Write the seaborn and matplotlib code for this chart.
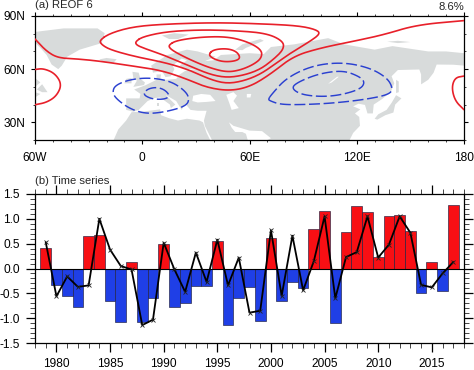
"""
Two panel figure: REOF 6 map pattern and its time series.
"""
import numpy as np
import pandas as pd
import matplotlib
matplotlib.use("Agg")
import matplotlib.pyplot as plt
from matplotlib.ticker import MultipleLocator
import seaborn as sns

# time series
years = list(range(1979, 2018))
bar_values = [0.42, -0.34, -0.55, -0.77, 0.65, 0.68, -0.66, -1.08, 0.13, -1.07,
              -0.60, 0.50, -0.78, -0.70, -0.35, -0.35, 0.56, -1.13, -0.59, -0.37,
              -1.06, 0.62, -0.66, -0.27, -0.39, 0.79, 1.15, -1.09, 0.73, 1.25,
              1.14, 0.23, 1.05, 1.07, 0.75, -0.50, 0.13, -0.46, 1.27]
line_values = [0.53, -0.56, -0.16, -0.37, -0.34, 1.00, 0.38, 0.05, -0.02, -1.14,
               -1.03, 0.52, -0.02, -0.47, 0.32, -0.27, 0.58, -0.34, 0.22, -0.89,
               -0.85, 0.77, -0.55, 0.66, -0.44, 0.15, 1.05, -0.60, 0.23, 0.33,
               1.05, 0.22, 0.48, 1.05, 0.72, -0.33, -0.38, -0.10, 0.13]

# contours, (lon, lat)
red_open = [(-60, 77), (-53.5, 70), (-47, 66.3), (-36.7, 65.8), (-23.6, 64.5), (-5, 61.7),
            (10, 59.4), (23, 55.2), (36, 49.6), (49, 47.7), (60.3, 50.1), (71.5, 57),
            (84.5, 67.3), (99.5, 71.9), (118, 75.7), (135, 79.4), (153.5, 85), (180, 87.4)]
red_left = [(-60, 59.8), (-55.3, 60.4), (-48.8, 57.6), (-45, 51.4), (-47.9, 44.9),
            (-53.5, 41.2), (-60, 39.9)]
red_right = [(180, 56.1), (175, 55.2), (173.1, 49.6), (175, 42.1), (180, 37.1)]
red_closed_1 = [(-24, 76.2), (-18, 80.3), (-5, 84), (13.7, 85.5), (41.6, 86.3), (69.6, 85.5),
                (88.3, 84.4), (97.6, 82.2), (99.5, 79.9), (93.9, 75.7), (84.5, 70.1),
                (75.2, 63.5), (65.9, 57), (56.6, 53.3), (47.2, 51.8), (37.9, 54.2),
                (26.7, 59.4), (13.7, 63.5), (-5, 67.3), (-18, 71), (-22.7, 73.8)]
red_closed_2 = [(-3.7, 75.7), (0.6, 78.4), (13.7, 81.2), (32.3, 82.2), (51, 81.8), (69.6, 80.3),
                (79, 75.7), (79, 71), (73.3, 65.4), (65.9, 59.8), (56.6, 56.5), (47.2, 55.2),
                (37.9, 57), (26.7, 61.7), (13.7, 67.3), (0.6, 71.9), (-3.5, 73.8)]
red_closed_3 = [(15, 73.8), (19.3, 76.2), (32.3, 78.1), (47.2, 78.4), (58.4, 75.7), (66.8, 71),
                (66.8, 66.3), (62.2, 62.6), (54.7, 59.4), (47.2, 58.3), (37.9, 60.7),
                (28.6, 64.5), (19.3, 69.1), (15.2, 71.9)]
red_closed_4 = [(37, 68.2), (39.8, 71), (47.2, 71.7), (52.8, 70), (55, 66.3), (51.9, 64.5),
                (45.4, 64.1), (39.8, 65.8)]
blue_eu_outer = [(-16.7, 46.8), (-15.2, 50.9), (-6.8, 54.2), (4.3, 55.2), (15.5, 53.3), (23, 48.6),
                 (26.4, 44), (24.9, 39.3), (13.7, 36), (2.5, 34.7), (-6.8, 37.5), (-14.3, 43)]
blue_eu_inner = [(1, 46.8), (3.5, 49), (8.2, 49.8), (12.7, 48.3), (15.5, 44.9), (12.7, 43),
                 (6.2, 43), (1.5, 44.9)]
blue_as_outer = [(70.5, 43), (72.4, 45.8), (80.8, 55.2), (95.7, 62.2), (112.5, 63.9), (127.4, 60.7),
                 (136.8, 55.2), (140.1, 49.6), (138.6, 45.8), (125.6, 43), (106.9, 40.8),
                 (88.3, 39.9), (77.1, 40.1), (71.5, 42.1)]
blue_as_inner = [(83.2, 49.6), (88.3, 53.3), (99.5, 57.6), (112.5, 59.3), (121.8, 55.7), (124.6, 52.4),
                 (121.8, 48.6), (110.6, 45.3), (99.5, 44.4), (88.3, 45.8)]

# land outlines
greenland = [(-60, 81), (-44, 83), (-25, 83), (-21, 80.3), (-22.7, 74.7), (-35, 71), (-42, 67),
             (-45, 62), (-47, 60), (-50.7, 62.6), (-53.5, 68), (-57, 72), (-60, 75)]
iceland = [(-24, 65.5), (-20, 66.3), (-14.3, 65.6), (-16, 63.7), (-21, 63.7)]
svalbard = [(11, 79), (18, 80.3), (26, 79.5), (20, 77), (15, 77)]
novaya = [(52, 71), (56, 74), (66, 77), (68, 76), (58, 72), (56, 70.7)]
severnaya = [(137, 75.5), (143, 76), (150, 75.3), (143, 74.7)]
labrador = [(-60, 55), (-57, 52.5), (-60, 50)]
newfoundland = [(-59, 48.5), (-56, 51.5), (-53, 47), (-56, 47)]
nova_scotia = [(-60, 47), (-60, 45.5), (-60, 44), (-57, 46)]
britain = [(-5.5, 58.5), (-2, 58), (-1, 54.5), (1.5, 52.5), (1, 51), (-5, 50), (-3, 53.5), (-5, 55)]
ireland = [(-10, 52), (-6, 52), (-6, 55), (-9, 54.5)]
sicily_sardinia = [(8.5, 41), (9.5, 41), (9.5, 39), (8.5, 39)]
japan = [(130, 32), (132, 34.5), (136.7, 37), (139.5, 41), (142, 45.3), (145, 43.5), (141.5, 40),
         (140.5, 35.5), (136, 34), (131.5, 31.5)]
sakhalin = [(142, 54), (143.5, 53), (143.5, 47), (142, 46.5)]
africa = [(-16, 20), (-13.4, 26), (-9, 31), (-6, 35.7), (0, 36), (10, 37.3), (10.5, 34), (15, 32.3),
          (20, 31), (25, 32), (32, 31), (34, 30), (36, 24), (38, 20)]
eurasia = [(116, 20), (118, 24), (121.8, 28), (121.4, 33), (119, 35), (122, 37.3), (118, 39),
           (121, 40.5), (124.6, 39.8), (126, 35), (129, 35), (129.5, 40), (134, 43), (139, 47),
           (141, 52), (139.5, 56), (143, 59.5), (155, 59.8), (156, 57), (156, 51.4), (160, 54),
           (163, 58), (164.7, 62.6), (174, 62.5), (180, 62), (180, 69), (170, 70), (160, 70),
           (140, 73), (130, 71), (113, 74), (104, 77.5), (85, 74), (72, 72.5), (68, 68.5),
           (60, 69), (44, 68), (40, 65), (35, 64.5), (41, 67), (31, 70), (25, 71), (14, 68),
           (5, 62), (6, 58), (11, 59), (13, 55.5), (16, 56), (18, 60), (17, 62), (22, 66), (25, 65),
           (21, 62), (23, 60), (30, 60), (24, 59), (21, 57), (19, 54.5), (14, 54), (10, 54),
           (10.5, 57), (8, 57), (8, 54), (4, 52), (2, 51), (-4.5, 48.5), (-1, 46), (-1.5, 43.5),
           (-9, 43.5), (-9, 37), (-5, 36), (-2, 37), (0, 39), (3, 42), (7, 43.7), (10, 44),
           (15.5, 40), (16, 38), (18.5, 40), (13, 45.5), (19, 42), (22, 37), (24, 40.5),
           (27, 37), (31, 36.5), (36, 36.5), (34.5, 31), (35, 28), (39, 20)]
arabia_fill = [(39, 20), (59, 20), (59, 30), (39, 30)]
black_sea = [(28, 42), (28.5, 45), (33, 46), (38, 45.5), (41, 42), (36, 41.5), (31, 41.2)]
caspian = [(47, 45.5), (51, 47), (53, 45), (51, 42), (54, 38), (50, 37), (49, 40)]
aral = [(58.5, 46), (61, 46), (60.5, 44), (58.5, 44)]
persian_gulf = [(48.5, 30), (51, 28), (56, 26.5), (60, 25.3), (67, 25), (72, 21), (70, 20),
                (59, 20), (58, 23.5), (56, 24.5), (52, 24.5), (50, 27)]
baikal = [(104, 51.7), (106, 52.5), (110, 55.7), (109, 55.7), (105.5, 53)]

lon_ticks = [-60, 0, 60, 120, 180]
lon_labels = ["60W", "0", "60E", "120E", "180"]
lat_ticks = [30, 60, 90]
lat_labels = ["30N", "60N", "90N"]
year_ticks = list(range(1980, 2016, 5))
value_ticks = [-1.5, -1.0, -0.5, 0.0, 0.5, 1.0, 1.5]

LAND = "#d8dbdb"
RED = "#e8202a"
BLUE = "#2a40d0"
W, H = 474, 370

sns.set_theme(style="white", rc={"axes.edgecolor": "black", "axes.linewidth": 0.9})
plt.rcParams["font.family"] = ["Liberation Sans", "DejaVu Sans"]
FS = 8.6
TITLE_FS = 8.1


def smooth(points, closed=False, passes=3):
    # corner cutting so the contour lines do not look faceted
    pts = np.array(points, dtype=float)
    for _ in range(passes):
        if closed:
            nxt = np.roll(pts, -1, axis=0)
            pts = np.column_stack([0.75 * pts + 0.25 * nxt, 0.25 * pts + 0.75 * nxt]).reshape(-1, 2)
        else:
            a, b = pts[:-1], pts[1:]
            mid = np.column_stack([0.75 * a + 0.25 * b, 0.25 * a + 0.75 * b]).reshape(-1, 2)
            pts = np.vstack([pts[0], mid, pts[-1]])
    if closed:
        pts = np.vstack([pts, pts[0]])
    return pts


fig = plt.figure(figsize=(W / 100, H / 100), dpi=100)
ax_map = fig.add_axes([35 / W, 1 - 140 / H, 429 / W, 124 / H])
ax_ts = fig.add_axes([35 / W, 1 - 343 / H, 429 / W, 149 / H])

# (a) map
for poly in [greenland, iceland, svalbard, novaya, severnaya, labrador, newfoundland, nova_scotia,
             britain, ireland, sicily_sardinia, japan, sakhalin, africa, eurasia, arabia_fill]:
    xy = np.array(poly)
    ax_map.fill(xy[:, 0], xy[:, 1], color=LAND, lw=0, zorder=1)
for poly in [black_sea, caspian, aral, persian_gulf, baikal]:
    xy = np.array(poly)
    ax_map.fill(xy[:, 0], xy[:, 1], color="white", lw=0, zorder=2)

for line, closed in [(red_open, False), (red_left, False), (red_right, False), (red_closed_1, True),
                     (red_closed_2, True), (red_closed_3, True), (red_closed_4, True)]:
    xy = smooth(line, closed)
    ax_map.plot(xy[:, 0], xy[:, 1], color=RED, lw=1.2, zorder=3)
for line in [blue_eu_outer, blue_eu_inner, blue_as_outer, blue_as_inner]:
    xy = smooth(line, True)
    ax_map.plot(xy[:, 0], xy[:, 1], color=BLUE, lw=1.05, dashes=(7.5, 2.5), zorder=3)

ax_map.set_xlim(-60, 180)
ax_map.set_ylim(20, 90)
ax_map.set_xticks(lon_ticks, lon_labels)
ax_map.set_yticks(lat_ticks, lat_labels)
ax_map.xaxis.set_minor_locator(MultipleLocator(10))
ax_map.yaxis.set_minor_locator(MultipleLocator(10))
ax_map.tick_params(axis="both", which="major", direction="out", length=2.6, width=0.8, top=True,
                   right=True, bottom=True, left=True, labelsize=FS, colors="black")
ax_map.tick_params(axis="x", which="major", pad=5.8)
ax_map.tick_params(axis="y", which="major", pad=4.5)
ax_map.tick_params(axis="both", which="minor", direction="out", length=1.4, width=0.6, top=True,
                   right=True, bottom=True, left=True)
ax_map.text(0, 1.045, "(a) REOF 6", transform=ax_map.transAxes, fontsize=TITLE_FS, va="bottom", ha="left")
ax_map.text(1, 1.035, "8.6%", transform=ax_map.transAxes, fontsize=TITLE_FS, va="bottom", ha="right")

# (b) time series
ts = pd.DataFrame({"year": years, "bar": bar_values, "line": line_values})
ts["sign"] = np.where(ts["bar"] > 0, "pos", "neg")
sns.barplot(data=ts, x="year", y="bar", hue="sign", palette={"pos": "#f80f14", "neg": "#1f3fe6"},
            native_scale=True, width=1.0, dodge=False, legend=False, edgecolor="#202040",
            linewidth=0.45, saturation=1, ax=ax_ts, zorder=2)
ax_ts.axhline(0, color="black", lw=0.8, zorder=3)
sns.lineplot(data=ts, x="year", y="line", color="black", lw=1.3, marker="x", markersize=3.5,
             markeredgewidth=0.6, markeredgecolor="#222222", estimator=None, ax=ax_ts, zorder=4)

ax_ts.set_xlim(1978, 2018)
ax_ts.set_ylim(-1.5, 1.5)
ax_ts.set_xlabel("")
ax_ts.set_ylabel("")
ax_ts.set_xticks(year_ticks, [str(y) for y in year_ticks])
ax_ts.set_yticks(value_ticks, [f"{v:.1f}" for v in value_ticks])
ax_ts.xaxis.set_minor_locator(MultipleLocator(1))
ax_ts.yaxis.set_minor_locator(MultipleLocator(0.1))
ax_ts.tick_params(axis="both", which="major", direction="out", length=6.5, width=0.9, top=True,
                  right=True, bottom=True, left=True, labelsize=FS, colors="black")
ax_ts.tick_params(axis="x", which="major", pad=4.2)
ax_ts.tick_params(axis="y", which="major", pad=4.5)
ax_ts.tick_params(axis="both", which="minor", direction="out", length=3.4, width=0.6, top=True,
                  right=True, bottom=True, left=True)
ax_ts.text(0, 1.055, "(b) Time series", transform=ax_ts.transAxes, fontsize=TITLE_FS, va="bottom", ha="left")

fig.savefig("out.png", dpi=100)
